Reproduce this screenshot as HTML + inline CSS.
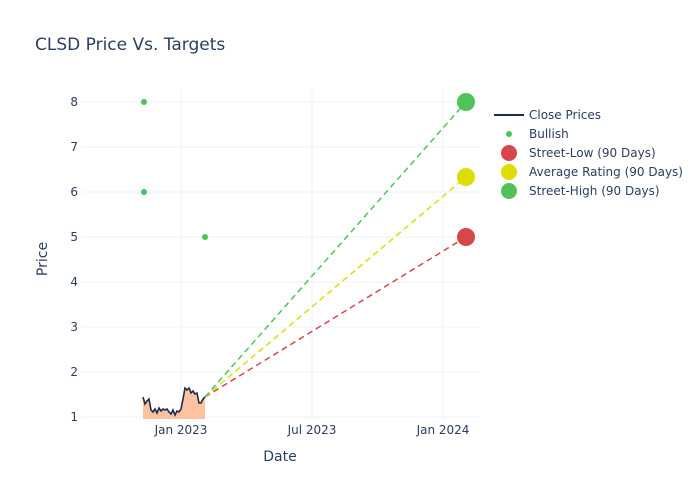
<!DOCTYPE html>
<html><head><style>body{margin:0;background:#fff}svg{display:block;font-family:"DejaVu Sans",sans-serif}</style></head><body>
<svg width="700" height="500" xmlns="http://www.w3.org/2000/svg">
<rect width="700" height="500" fill="#fff"/>
<text x="35" y="50" font-size="17" fill="#2a3f5f">CLSD Price Vs. Targets</text>
<g stroke="#ebf0f8" stroke-width="1">
<line x1="82" y1="417" x2="480" y2="417"/><line x1="82" y1="372" x2="480" y2="372"/><line x1="82" y1="327" x2="480" y2="327"/><line x1="82" y1="282" x2="480" y2="282"/><line x1="82" y1="237" x2="480" y2="237"/><line x1="82" y1="192" x2="480" y2="192"/><line x1="82" y1="147" x2="480" y2="147"/><line x1="82" y1="102" x2="480" y2="102"/>
<line x1="181" y1="90" x2="181" y2="420"/><line x1="312" y1="90" x2="312" y2="420"/><line x1="443" y1="90" x2="443" y2="420"/>
</g>
<g font-size="12" fill="#2a3f5f" text-anchor="end">
<text x="78" y="421">1</text><text x="78" y="376">2</text><text x="78" y="331">3</text><text x="78" y="286">4</text><text x="78" y="241">5</text><text x="78" y="196">6</text><text x="78" y="151">7</text><text x="78" y="106">8</text>
</g>
<g font-size="12" fill="#2a3f5f" text-anchor="middle">
<text x="181" y="434">Jan 2023</text><text x="312" y="434">Jul 2023</text><text x="443" y="434">Jan 2024</text>
</g>
<text x="280" y="461" font-size="14" fill="#2a3f5f" text-anchor="middle">Date</text>
<text x="47" y="259" font-size="14" fill="#2a3f5f" text-anchor="middle" transform="rotate(-90 47 259)">Price</text>
<path d="M143,419 L143,397 L145,404 L147,401 L149,399 L151,410 L153,412 L155,409 L157,413 L159,408 L161,411 L163,409 L165,410 L167,409 L169,412 L171,414 L173,410 L175,415 L177,411 L179,412 L181,409 L183,399 L185,388 L187,390 L189,388 L191,393 L193,391 L195,394 L197,393 L199,403 L201,403 L203,399 L205,397 L205,419 Z" fill="#fdbf9a" fill-opacity="0.95"/>
<path d="M143,397 L145,404 L147,401 L149,399 L151,410 L153,412 L155,409 L157,413 L159,408 L161,411 L163,409 L165,410 L167,409 L169,412 L171,414 L173,410 L175,415 L177,411 L179,412 L181,409 L183,399 L185,388 L187,390 L189,388 L191,393 L193,391 L195,394 L197,393 L199,403 L201,403 L203,399 L205,397" fill="none" stroke="#1f2d4d" stroke-width="1.6"/>
<g stroke-width="1.5" stroke-dasharray="6,4" fill="none">
<line x1="205" y1="397" x2="466" y2="237" stroke="#d6474a"/>
<line x1="205" y1="397" x2="466" y2="177" stroke="#dddd00"/>
<line x1="205" y1="397" x2="466" y2="102" stroke="#4fc35a"/>
</g>
<g fill="#4fc35a"><circle cx="144" cy="102" r="3"/><circle cx="144" cy="192" r="3"/><circle cx="205" cy="237" r="3"/></g>
<circle cx="466" cy="237" r="9" fill="#d6474a"/>
<circle cx="466" cy="177" r="9" fill="#dddd00"/>
<circle cx="466" cy="102" r="9" fill="#4fc35a"/>
<g font-size="12" fill="#2a3f5f">
<line x1="494" y1="115" x2="524" y2="115" stroke="#1f2d4d" stroke-width="2"/><text x="529" y="119">Close Prices</text>
<circle cx="509" cy="134" r="3" fill="#4fc35a"/><text x="529" y="138">Bullish</text>
<circle cx="509" cy="153" r="8" fill="#d6474a"/><text x="529" y="157">Street-Low (90 Days)</text>
<circle cx="509" cy="172" r="8" fill="#dddd00"/><text x="529" y="176">Average Rating (90 Days)</text>
<circle cx="509" cy="191" r="8" fill="#4fc35a"/><text x="529" y="195">Street-High (90 Days)</text>
</g>
</svg>
</body></html>
